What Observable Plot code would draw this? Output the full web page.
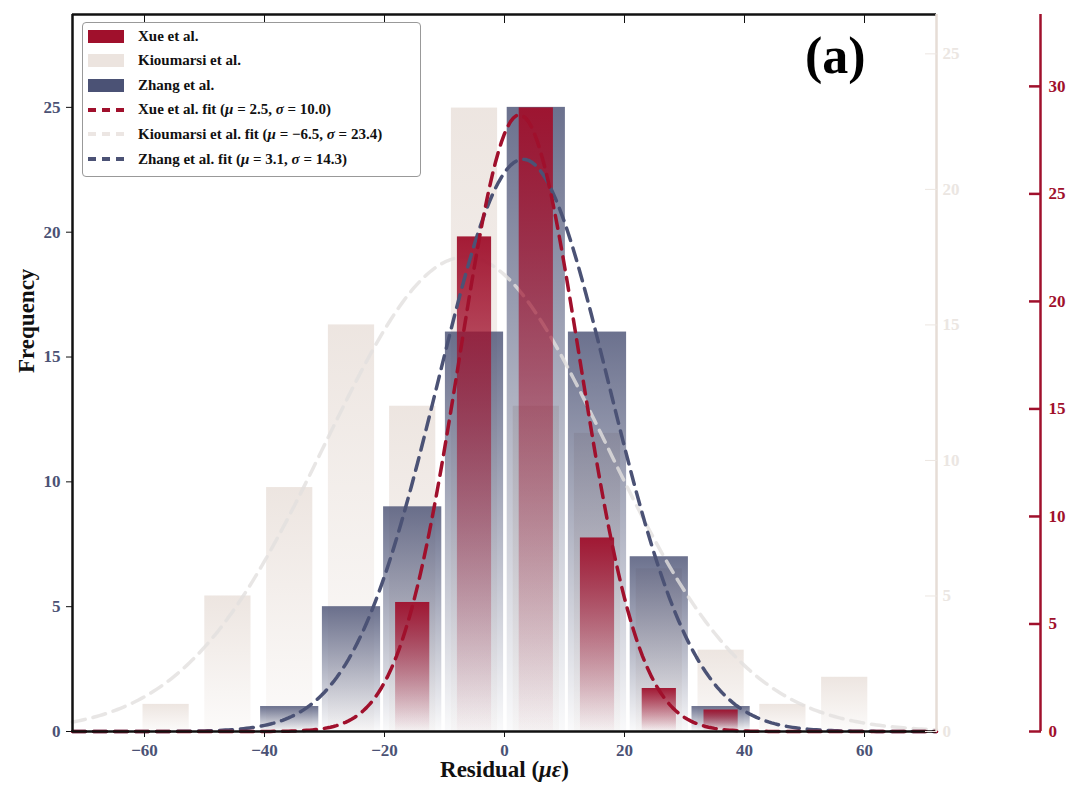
<!DOCTYPE html>
<html><head><meta charset="utf-8">
<script src="https://cdn.jsdelivr.net/npm/d3@7"></script>
<script src="https://cdn.jsdelivr.net/npm/@observablehq/plot@0.6"></script>
<style>
body{margin:0;background:#fff;font-family:"Liberation Serif",serif;}
#wrap{position:relative;width:1080px;height:804px;}
#legend{position:absolute;left:82px;top:22px;width:337px;height:153px;border:1.5px solid #999;border-radius:4px;background:rgba(255,255,255,0.9);font:bold 15px "Liberation Serif",serif;color:#111;}
.row{position:absolute;left:5px;height:16px;display:flex;align-items:center;white-space:pre;}
.sw{width:36px;height:13px;margin-right:14px;}
.dash{width:36px;height:0;border-top:4px dashed;margin-right:14px;}
#lbl{position:absolute;left:805px;top:26px;font:bold 52px "Liberation Serif",serif;}
</style></head><body>
<div id="wrap"></div>
<script>
const centers = [-56.4,-46.1,-35.8,-25.5,-15.3,-5.0,5.3,15.5,25.8,36.1,46.4,56.7];
const kioumarsi = [1,5,9,15,12,23,12,11,6,3,1,2];
const zhangCenters = [-35.8,-25.5,-15.3,-5.0,5.3,15.5,25.8,36.1];
const zhang = [1,5,9,16,25,16,7,1];
const xueCenters = [-15.3,-5.0,5.3,15.5,25.8,36.1];
const xue = [6,23,29,9,2,1];
const fits = [{name:"Kioumarsi", mu:-6.5, sigma:23.4, n:100},{name:"Zhang", mu:3.1, sigma:14.3, n:80},{name:"Xue", mu:2.5, sigma:10.0, n:70}];
const binW = 10.27;
const kF = 27.1/24.96, xF = 21.5/24.96;
const yMax = 28.72;

const kData = centers.map((c,i)=>({x1:c-3.85,x2:c+3.85,y:kioumarsi[i]*kF}));
const zData = zhangCenters.map((c,i)=>({x1:c-4.85,x2:c+4.85,y:zhang[i]}));
const xData = xueCenters.map((c,i)=>({x1:c-2.85,x2:c+2.85,y:xue[i]*xF}));
const factor = {Kioumarsi:kF, Zhang:1, Xue:xF};
const xs = d3.range(-72,72.01,0.5);
const curve = f => xs.map(x=>({x, y: factor[f.name]*f.n*binW*Math.exp(-0.5*((x-f.mu)/f.sigma)**2)/(f.sigma*Math.sqrt(2*Math.PI))}));
const [kc,zc,xc] = fits.map(curve);
const slate="#4b5275", crimson="#a0102c", pale="#ece4df";
const lt=[0,5,10,15,20,25], kt=[0,5,10,15,20,25].map(v=>v*kF), xt=[0,5,10,15,20,25,30].map(v=>v*xF);

const svg = Plot.plot({
  width:1080, height:804, marginLeft:72, marginRight:144, marginTop:14, marginBottom:73,
  style:{fontFamily:"Liberation Serif", fontWeight:"bold", fontSize:"17px", overflow:"visible"},
  x:{domain:[-72,72]}, y:{domain:[0,yMax]},
  marks:[
    Plot.rect(kData,{x1:"x1",x2:"x2",y1:0,y2:"y",fill:"url(#gK)"}),
    Plot.rect(zData,{x1:"x1",x2:"x2",y1:0,y2:"y",fill:"url(#gZ)"}),
    Plot.line(kc,{x:"x",y:"y",stroke:"#e2e0df",strokeOpacity:0.8,strokeWidth:3.5,strokeDasharray:"13,8"}),
    Plot.rect(xData,{x1:"x1",x2:"x2",y1:0,y2:"y",fill:"url(#gX)"}),
    Plot.line(zc,{x:"x",y:"y",stroke:slate,strokeWidth:3.5,strokeDasharray:"13,8"}),
    Plot.line(xc,{x:"x",y:"y",stroke:crimson,strokeWidth:3.5,strokeDasharray:"13,8"}),
    Plot.ruleY([yMax],{stroke:"#111",strokeWidth:2.5}),
    Plot.ruleY([0],{stroke:"#111",strokeWidth:2.5}),
    Plot.ruleX([-72],{stroke:"#111",strokeWidth:2.5}),
    Plot.ruleX([72],{stroke:"#e6ddd6",strokeWidth:2.5}),
    Plot.axisX({ticks:[-60,-40,-20,0,20,40,60],tickSize:6,tickPadding:6,fill:slate,stroke:"#111",label:null,fontSize:17}),
    Plot.axisX({anchor:"top",ticks:[-60,-40,-20,0,20,40,60],tickSize:-8,text:null,stroke:"#111",label:null}),
    Plot.axisY({ticks:lt,tickSize:6,tickPadding:6,fill:slate,stroke:"#111",label:null,fontSize:17}),
    Plot.axisY(kt,{anchor:"right",dx:-12,tickSize:12,text:null,stroke:"#ece6e1",label:null}),
    Plot.axisY(kt,{anchor:"right",tickSize:0,tickPadding:6,fill:"#ebe6e2",label:null,tickFormat:d=>Math.round(d/kF),fontSize:17}),
    Plot.ruleX([72],{y1:0,y2:yMax,dx:104,stroke:crimson,strokeWidth:2.5}),
    Plot.axisY(xt,{anchor:"right",dx:92,tickSize:12,text:null,stroke:crimson,strokeWidth:2.5,label:null}),
    Plot.axisY(xt,{anchor:"right",dx:104,tickSize:0,tickPadding:8,fill:crimson,label:null,tickFormat:d=>Math.round(d/xF),fontSize:17}),
    Plot.text(["Residual (με)"],{frameAnchor:"bottom",dy:45,fontSize:23,fill:"#111"}),
    Plot.text(["Frequency"],{frameAnchor:"left",dx:-46,rotate:-90,fontSize:23,fill:"#111"})
  ]
});
const ns="http://www.w3.org/2000/svg";
const defs=document.createElementNS(ns,"defs");
[["gK",pale,0.95,0.15],["gZ",slate,0.82,0.03],["gX",crimson,0.95,0.02]].forEach(([id,c,a,b])=>{
  const g=document.createElementNS(ns,"linearGradient");
  g.setAttribute("id",id);g.setAttribute("x1","0");g.setAttribute("x2","0");g.setAttribute("y1","0");g.setAttribute("y2","1");
  [[0,a],[1,b]].forEach(([o,op])=>{const s=document.createElementNS(ns,"stop");s.setAttribute("offset",o);s.setAttribute("stop-color",c);s.setAttribute("stop-opacity",op);g.appendChild(s);});
  defs.appendChild(g);
});
svg.insertBefore(defs,svg.firstChild);
svg.querySelectorAll("text").forEach(t=>{ if(t.textContent==="Residual (με)"){ t.innerHTML='Residual (<tspan font-style="italic">με</tspan>)'; }});
const wrap=document.getElementById("wrap");
wrap.appendChild(svg);
const lg=document.createElement("div");lg.id="legend";
const rows=[["sw",crimson,"Xue et al."],["sw",pale,"Kioumarsi et al."],["sw",slate,"Zhang et al."],
 ["dash",crimson,"Xue et al. fit (<i>μ</i> = 2.5, <i>σ</i> = 10.0)"],["dash","#ece6e3","Kioumarsi et al. fit (<i>μ</i> = −6.5, <i>σ</i> = 23.4)"],["dash",slate,"Zhang et al. fit (<i>μ</i> = 3.1, <i>σ</i> = 14.3)"]];
rows.forEach(([k,c,t],i)=>{const r=document.createElement("div");r.className="row";r.style.top=(5+i*24.6)+"px";
 r.innerHTML=(k==="sw"?`<div class="sw" style="background:${c}"></div>`:`<div class="dash" style="border-color:${c}"></div>`)+`<span>${t}</span>`;lg.appendChild(r);});
wrap.appendChild(lg);
const a=document.createElement("div");a.id="lbl";a.textContent="(a)";wrap.appendChild(a);
</script></body></html>
